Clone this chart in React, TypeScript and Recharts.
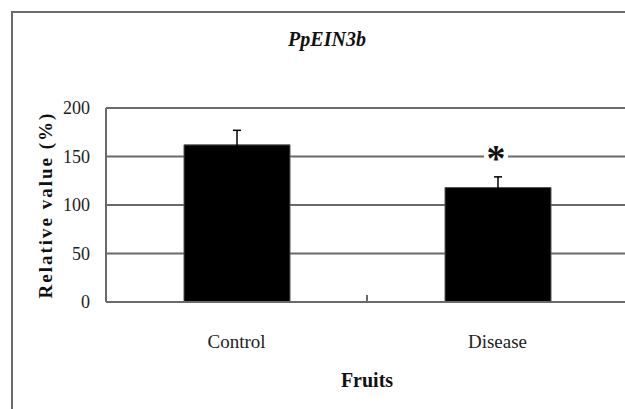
import { BarChart, Bar, XAxis, YAxis, CartesianGrid, ErrorBar, LabelList, Label } from "recharts";

const categories = ["Control", "Disease"];
const values = [162, 118];
const errors = [15, 11];
const marks = ["", "*"];
const yTicks = [0, 50, 100, 150, 200];

const data = categories.map((name, i) => ({
  name,
  value: values[i],
  err: errors[i],
  mark: marks[i]
}));

const SERIF = "Liberation Serif, serif";
const LINE = "#6a6a6a";

function CategoryTick(props: any) {
  const { x, y, payload, index } = props;
  return (
    <g>
      {index === 0 && (
        <line x1={x + payload.offset} y1={y} x2={x + payload.offset} y2={y - 7} stroke={LINE} strokeWidth={2} />
      )}
      <text x={x} y={y + 39} textAnchor="middle" dominantBaseline="central" fontSize={19} fontFamily={SERIF} fill="#222">
        {payload.value}
      </text>
    </g>
  );
}

function MarkLabel(props: any) {
  const { x, y, width, value } = props;
  if (!value) return null;
  const cx = x + width / 2 - 2;
  return (
    <g>
      <rect x={cx - 12} y={y - 46} width={24} height={24} fill="#fff" />
      <text x={cx} y={y - 17} textAnchor="middle" fontSize={38} fontWeight="bold" fontFamily={SERIF} fill="#111">
        {value}
      </text>
    </g>
  );
}

export default function App() {
  return (
    <div style={{ position: "absolute", left: 0, top: 0, width: 625, height: 409, overflow: "hidden", background: "#fff" }}>
      <div
        style={{
          position: "absolute",
          left: 11,
          top: 11,
          width: 700,
          height: 500,
          borderLeft: `2px solid ${LINE}`,
          borderTop: `2px solid ${LINE}`
        }}
      />
      <div
        style={{
          position: "absolute",
          left: 227,
          width: 200,
          top: 28,
          textAlign: "center",
          fontFamily: SERIF,
          fontSize: 20,
          fontWeight: "bold",
          fontStyle: "italic",
          color: "#111"
        }}
      >
        PpEIN3b
      </div>
      <div style={{ position: "absolute", left: 0, top: 0 }}>
        <BarChart width={628} height={409} data={data} margin={{ top: 108, right: 0, bottom: 0, left: 0 }}>
          <CartesianGrid vertical={false} stroke={LINE} strokeWidth={2} />
          <XAxis
            dataKey="name"
            height={107}
            axisLine={{ stroke: LINE, strokeWidth: 2 }}
            tickLine={false}
            tickSize={0}
            tickMargin={0}
            tick={<CategoryTick />}
            interval={0}
          >
            <Label
              content={(p: any) => (
                <text
                  x={p.viewBox.x + p.viewBox.width / 2}
                  y={p.viewBox.y + 78}
                  textAnchor="middle"
                  dominantBaseline="central"
                  fontSize={20}
                  fontWeight="bold"
                  fontFamily={SERIF}
                  fill="#111"
                >
                  Fruits
                </text>
              )}
            />
          </XAxis>
          <YAxis
            width={106}
            domain={[0, 200]}
            ticks={yTicks}
            axisLine={{ stroke: LINE, strokeWidth: 2 }}
            tickLine={false}
            tickSize={0}
            tickMargin={16}
            tick={{ fontSize: 18, fill: "#222", fontFamily: SERIF }}
          >
            <Label
              content={(p: any) => {
                const cx = 45;
                const cy = p.viewBox.y + p.viewBox.height / 2;
                return (
                  <text
                    x={cx}
                    y={cy}
                    transform={`rotate(-90 ${cx} ${cy})`}
                    textAnchor="middle"
                    dominantBaseline="central"
                    fontSize={19}
                    fontWeight="bold"
                    fontFamily={SERIF}
                    letterSpacing={2}
                    fill="#111"
                  >
                    Relative value (%)
                  </text>
                );
              }}
            />
          </YAxis>
          <Bar dataKey="value" fill="#000" stroke="#555" strokeWidth={1} barSize={106} isAnimationActive={false}>
            <ErrorBar dataKey="err" direction="y" width={4} stroke="#000" strokeWidth={1.5} />
            <LabelList dataKey="mark" content={<MarkLabel />} />
          </Bar>
        </BarChart>
      </div>
    </div>
  );
}
